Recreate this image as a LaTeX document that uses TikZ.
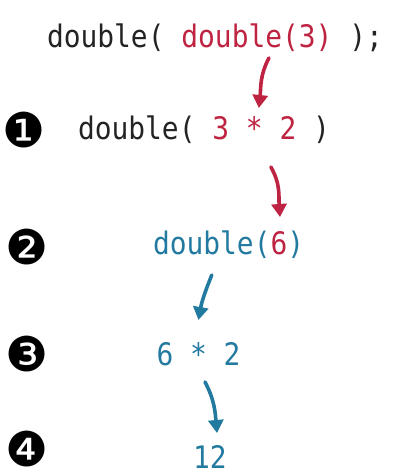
\documentclass[tikz,border=0pt]{standalone}
\usepackage{fontspec}
\usetikzlibrary{arrows.meta,positioning}
\newfontfamily\codefont[FakeStretch=0.9]{DejaVu Sans Mono}
\newfontfamily\markfont{DejaVu Sans}
\definecolor{ink}{RGB}{35,35,35}
\definecolor{crimson}{RGB}{190,35,65}
\definecolor{teal}{RGB}{35,122,160}
\tikzset{
  code/.style={inner sep=0pt,outer sep=0pt,text height=24pt,text depth=7pt,
    font=\codefont\fontsize{31}{36}\selectfont,text=ink},
  stepmark/.style={inner sep=0pt,font=\markfont\fontsize{48}{50}\selectfont,text=black},
  flow/.style={line width=3.6pt,line cap=round,-{Triangle[length=13pt,width=15pt]}},
  redflow/.style={flow,crimson},
  blueflow/.style={flow,teal}
}

\begin{document}
\begin{tikzpicture}[x=1pt,y=1pt]
        \useasboundingbox (0,0) rectangle (395,475);
        % original call
        \node[code,anchor=base west] (open0) at (47,427) {double(~\null};
        \node[code,anchor=base west,text=crimson] (call0) at (open0.base east) {double(3)};
        \node[code,anchor=base west] (close0) at (call0.base east) {~);};
        % step 1
        \node[stepmark] (m1) at (24,345) {❶};
        \node[code,anchor=base west] (open1) at (78,335) {double(~\null};
        \node[code,anchor=base west,text=crimson] (calc1) at (open1.base east) {3~*~2};
        \node[code,anchor=base west] (close1) at (calc1.base east) {~)};
        % step 2
        \node[stepmark] (m2) at (27,228) {❷};
        \node[code,anchor=base west,text=teal] (fn2) at (153,220) {double(};
        \node[code,anchor=base west,text=crimson] (arg2) at (fn2.base east) {6};
        \node[code,anchor=base west,text=teal] (close2) at (arg2.base east) {)};
        % step 3
        \node[stepmark] (m3) at (27,121) {❸};
        \node[code,anchor=base,text=teal] (calc3) at (198.5,110) {6~*~2};
        % step 4
        \node[stepmark] (m4) at (27,26) {❹};
        \node[code,anchor=base,text=teal,text depth=0pt] (result4) at (210,6) {12};
        % arrows
        \draw[redflow] ([shift={(12,-3)}]call0.south) to[out=-118,in=84] ([shift={(4.5,8)}]calc1.north);
        \draw[redflow] ([shift={(16.5,-20)}]calc1.south) to[out=-60,in=94] ([shift={(1,14)}]arg2.north);
        \draw[blueflow] ([shift={(0,-13)}]fn2.south) to[out=-112,in=80] ([shift={(0,21)}]calc3.north);
        \draw[blueflow] ([shift={(6.5,-10)}]calc3.south) to[out=-62,in=95] ([shift={(7,12)}]result4.north);
      \end{tikzpicture}
\end{document}
